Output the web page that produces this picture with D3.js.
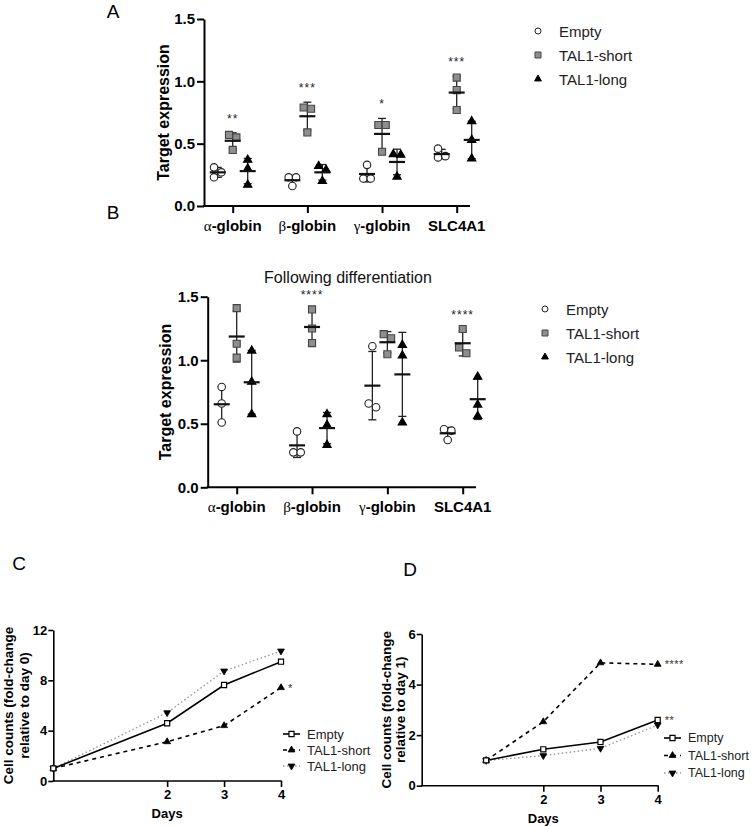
<!DOCTYPE html>
<html><head><meta charset="utf-8">
<script src="https://cdn.jsdelivr.net/npm/d3@7/dist/d3.min.js"></script>
<style>body{margin:0;background:#fff}svg{display:block}text{font-family:"Liberation Sans",Arial,sans-serif}</style>
</head><body><svg id="c" width="752" height="826"></svg>
<script>
// ---------- DATA ----------
const categories = ["α-globin","β-globin","γ-globin","SLC4A1"];
const groupNames = ["Empty","TAL1-short","TAL1-long"];
const yTicksAB = [0, 0.5, 1.0, 1.5];

const aEmpty = [[0.23,0.31,0.27],[0.23,0.23,0.16],[0.33,0.22,0.22],[0.39,0.40,0.46]];
const aShort = [[0.57,0.55,0.45],[0.79,0.78,0.59],[0.65,0.65,0.435],[1.03,0.93,0.77]];
const aLong  = [[0.37,0.30,0.17],[0.32,0.29,0.20],[0.415,0.41,0.235],[0.68,0.53,0.38]];
const aStars = ["**","***","*","***"];

const bEmpty = [[0.79,0.66,0.51],[0.44,0.275,0.275],[1.11,0.63,0.66],[0.457,0.446,0.372]];
const bShort = [[1.41,1.13,1.02],[1.40,1.25,1.135],[1.205,1.173,1.047],[1.246,1.10,1.055]];
const bLong  = [[1.075,0.83,0.575],[0.575,0.49,0.333],[1.12,1.036,0.51],[0.87,0.65,0.56]];
const bStars = ["","****","","****"];
const bTitle = "Following differentiation";

const cDays = [0,2,3,4];
const cEmpty = [1.0,4.59,7.63,9.48];
const cShort = [1.0,3.12,4.40,7.42];
const cLong  = [1.0,5.43,8.74,10.33];
const cYTicks = [0,4,8,12];

const dDays = [1,2,3,4];
const dEmpty = [1.0,1.44,1.73,2.60];
const dShort = [1.0,2.53,4.86,4.80];
const dLong  = [1.0,1.19,1.48,2.40];
const dYTicks = [0,2,4,6];
const xTicksCD = [2,3,4];

// ---------- HELPERS ----------
const svg = d3.select("#c");
const FONT = '"Liberation Sans",Arial,sans-serif';

function mean(a){return d3.mean(a);}
function sd(a){return d3.deviation(a);}

function scatterPanel(opt){
  const g = svg.append("g");
  const y = d3.scaleLinear().domain([0,1.5]).range([opt.y0, opt.y1]);
  const x = d3.scalePoint().domain(categories).range([opt.xFirst, opt.xLast]);
  const ya = g.append("g").attr("transform",`translate(${opt.ax},0)`)
    .call(d3.axisLeft(y).tickValues(yTicksAB).tickFormat(d3.format(".1f")).tickSize(7).tickSizeOuter(0));
  ya.select(".domain").attr("stroke","#000").attr("stroke-width",2);
  ya.selectAll(".tick line").attr("stroke","#000").attr("stroke-width",2);
  ya.selectAll(".tick text").attr("font-family",FONT).attr("font-weight","bold").attr("font-size",15).attr("fill","#000").attr("x",-9);
  const xa = g.append("g").attr("transform",`translate(0,${opt.y0})`)
    .call(d3.axisBottom(x).tickSize(7).tickSizeOuter(0).tickFormat(""));
  xa.select(".domain").remove();
  xa.selectAll(".tick line").attr("stroke","#000").attr("stroke-width",2);
  g.append("line").attr("x1",opt.ax-1).attr("x2",opt.axEnd).attr("y1",opt.y0).attr("y2",opt.y0).attr("stroke","#000").attr("stroke-width",2);
  categories.forEach(c=>{
    const t = g.append("text").attr("x",x(c)).attr("y",opt.y0+25).attr("text-anchor","middle").attr("font-size",15).attr("fill","#000");
    const greek = /^[αβγ]/.test(c);
    if(greek){
      t.append("tspan").attr("font-family",'"Liberation Serif","DejaVu Serif",serif').attr("font-size",15).text(c[0]);
      t.append("tspan").attr("font-family",FONT).attr("font-weight","bold").text(c.slice(1));
    } else {
      t.append("tspan").attr("font-family",FONT).attr("font-weight","bold").text(c);
    }
  });
  g.append("text").attr("transform",`translate(${opt.ylx},${(opt.y0+opt.y1)/2}) rotate(-90)`)
    .attr("text-anchor","middle").attr("dominant-baseline","central").attr("font-family",FONT).attr("font-weight","bold").attr("font-size",16).text("Target expression");

  const series = [opt.empty, opt.short, opt.long];
  const offsets = [-15,0,15];
  const sym = [d3.symbolCircle, d3.symbolSquare, d3.symbolTriangle];
  const sizes = [44, 50, 30];
  const fills = ["#fff","#8e8e8e","#000"];
  const strokes = ["#222","#444","#000"];
  categories.forEach((c,ci)=>{
    series.forEach((s,si)=>{
      const vals = s[ci];
      const cx = x(c)+offsets[si];
      const m = mean(vals), d = sd(vals);
      g.append("line").attr("x1",cx).attr("x2",cx).attr("y1",y(m-d)).attr("y2",y(m+d)).attr("stroke","#222").attr("stroke-width",1.3);
      [m-d,m+d].forEach(v=>g.append("line").attr("x1",cx-4).attr("x2",cx+4).attr("y1",y(v)).attr("y2",y(v)).attr("stroke","#222").attr("stroke-width",1.3));
      const placed = [];
      const order = vals.map((v,i)=>i).sort((a,b)=>vals[b]-vals[a]);
      order.forEach(i=>{
        const py = y(vals[i]);
        const close = placed.filter(p=>Math.abs(p.py-py)<8);
        let dx = 0;
        if(close.length===1){
          if(close[0].dx===0){ close[0].dx=-3.7; dx=3.7; }
          else dx = close[0].dx<0 ? close[0].dx+7.4 : close[0].dx-7.4;
        }
        placed.push({i,py,dx});
      });
      placed.forEach(p=>{
        g.append("path").attr("d",d3.symbol().type(sym[si]).size(sizes[si])())
          .attr("transform",`translate(${cx+p.dx},${p.py})`)
          .attr("fill",fills[si]).attr("stroke",strokes[si]).attr("stroke-width",1.1);
      });
      g.append("line").attr("x1",cx-8).attr("x2",cx+8).attr("y1",y(m)).attr("y2",y(m)).attr("stroke","#111").attr("stroke-width",2.2);
    });
    const st = opt.stars[ci];
    if(st){
      const top = Math.max(d3.max(opt.short[ci]), mean(opt.short[ci])+sd(opt.short[ci]));
      g.append("text").attr("x",x(c)).attr("y",y(top)-10).attr("text-anchor","middle")
        .attr("font-family",FONT).attr("font-size",12).attr("letter-spacing",1).attr("fill","#222").text(st);
    }
  });
  groupNames.forEach((n,i)=>{
    const ly = opt.legY + i*24;
    g.append("path").attr("d",d3.symbol().type(sym[i]).size([28,36,20][i])())
      .attr("transform",`translate(${opt.legX},${ly})`).attr("fill",fills[i]).attr("stroke",strokes[i]).attr("stroke-width",1);
    g.append("text").attr("x",opt.legX+21).attr("y",ly).attr("dominant-baseline","central")
      .attr("font-family",FONT).attr("font-size",15).attr("fill","#222").text(n);
  });
  g.append("text").attr("x",opt.lblX).attr("y",opt.lblY).attr("text-anchor","middle").attr("font-family",FONT).attr("font-size",19).text(opt.label);
  return {g,x,y};
}

scatterPanel({y0:206, y1:19, ax:204, axEnd:470, xFirst:232.7, xLast:456.7, ylx:163,
  empty:aEmpty, short:aShort, long:aLong, stars:aStars, legX:538, legY:31, lblX:113, lblY:18, label:"A"});
const pb = scatterPanel({y0:487.3, y1:296.7, ax:207.7, axEnd:476, xFirst:236.7, xLast:462.7, ylx:165,
  empty:bEmpty, short:bShort, long:bLong, stars:bStars, legX:545, legY:309, lblX:113, lblY:219, label:"B"});
pb.g.append("text").attr("x",348).attr("y",277).attr("text-anchor","middle").attr("dominant-baseline","central")
  .attr("font-family",FONT).attr("font-size",16).attr("fill","#111").text(bTitle);

function linePanel(opt){
  const g = svg.append("g");
  const x = d3.scaleLinear().domain(opt.xd).range([opt.ax, opt.xEnd]);
  const y = d3.scaleLinear().domain(opt.yd).range([opt.y0, opt.y1]);
  const ya = g.append("g").attr("transform",`translate(${opt.ax},0)`)
    .call(d3.axisLeft(y).tickValues(opt.yTicks).tickFormat(d3.format("d")).tickSize(5).tickSizeOuter(0));
  ya.select(".domain").attr("stroke","#000").attr("stroke-width",1.6);
  ya.selectAll(".tick line").attr("stroke","#000").attr("stroke-width",1.6);
  ya.selectAll(".tick text").attr("font-family",FONT).attr("font-weight","bold").attr("font-size",13).attr("fill","#000").attr("x",-6);
  const xa = g.append("g").attr("transform",`translate(0,${opt.y0})`)
    .call(d3.axisBottom(x).tickValues(xTicksCD).tickFormat(d3.format("d")).tickSize(6).tickSizeOuter(0));
  xa.select(".domain").remove();
  xa.selectAll(".tick line").attr("stroke","#000").attr("stroke-width",1.6);
  xa.selectAll(".tick text").attr("font-family",FONT).attr("font-weight","bold").attr("font-size",13).attr("fill","#000").attr("y",9);
  g.append("line").attr("x1",opt.ax-0.8).attr("x2",opt.xEnd+0.8).attr("y1",opt.y0).attr("y2",opt.y0).attr("stroke","#000").attr("stroke-width",1.6);
  g.append("text").attr("x",x(2)).attr("y",opt.y0+37).attr("text-anchor","middle").attr("font-family",FONT).attr("font-weight","bold").attr("font-size",13).text("Days");
  const ymid = (opt.y0+opt.y1)/2;
  [[opt.ylab1,opt.yl1x],[opt.ylab2,opt.yl2x]].forEach(([t,lx])=>{
    g.append("text").attr("transform",`translate(${lx},${ymid}) rotate(-90)`).attr("text-anchor","middle").attr("dominant-baseline","central")
      .attr("font-family",FONT).attr("font-weight","bold").attr("font-size",13.5).text(t);
  });
  const series = [opt.empty, opt.short, opt.long];
  const dashes = [null,"4,4","1.5,2.5"];
  const lcol = ["#000","#000","#999"];
  const lw = [1.6,1.6,1.4];
  const sym = [d3.symbolSquare, d3.symbolTriangle, d3.symbolTriangle];
  const msz = [26, 20, 20];
  const line = d3.line().x((d,i)=>x(opt.days[i])).y(d=>y(d));
  [2,1,0].forEach(si=>{
    g.append("path").attr("d",line(series[si])).attr("fill","none").attr("stroke",lcol[si]).attr("stroke-width",lw[si])
      .attr("stroke-dasharray",dashes[si]);
  });
  [2,1,0].forEach(si=>{
    series[si].forEach((v,i)=>{
      g.append("path").attr("d",d3.symbol().type(sym[si]).size(msz[si])())
        .attr("transform",`translate(${x(opt.days[i])},${y(v)})${si===2?" rotate(180)":""}`)
        .attr("fill",si===0?"#fff":"#000").attr("stroke","#000").attr("stroke-width",si===0?1.2:0.8);
    });
  });
  opt.stars.forEach(s=>{
    const v = series[s.series][series[s.series].length-1];
    g.append("text").attr("x",x(4)+s.dx).attr("y",y(v)).attr("dominant-baseline","central")
      .attr("font-family",FONT).attr("font-size",11).attr("letter-spacing",0.5).attr("fill","#333").text(s.text);
  });
  groupNames.forEach((n,i)=>{
    const ly = opt.legY + i*opt.legStep;
    g.append("line").attr("x1",opt.legX).attr("x2",opt.legX+17).attr("y1",ly).attr("y2",ly).attr("stroke",lcol[i]).attr("stroke-width",lw[i]).attr("stroke-dasharray",dashes[i]);
    g.append("path").attr("d",d3.symbol().type(sym[i]).size(msz[i])())
      .attr("transform",`translate(${opt.legX+8.5},${ly})${i===2?" rotate(180)":""}`)
      .attr("fill",i===0?"#fff":"#000").attr("stroke","#000").attr("stroke-width",i===0?1.2:0.8);
    g.append("text").attr("x",opt.legX+24).attr("y",ly).attr("dominant-baseline","central")
      .attr("font-family",FONT).attr("font-size",opt.legFont).attr("fill","#222").text(n);
  });
  g.append("text").attr("x",opt.lblX).attr("y",opt.lblY).attr("text-anchor","middle").attr("dominant-baseline","central").attr("font-family",FONT).attr("font-size",19).text(opt.label);
}

linePanel({xd:[0,4], yd:[0,12], ax:53.3, xEnd:281, y0:781, y1:630, yTicks:cYTicks,
  days:cDays, empty:cEmpty, short:cShort, long:cLong,
  stars:[{series:1,text:"*",dx:7}],
  ylab1:"Cell counts (fold-change", ylab2:"relative to day 0)", yl1x:8, yl2x:24,
  legX:283, legY:734, legStep:16, legFont:13, lblX:19, lblY:563, label:"C"});

linePanel({xd:[-0.126,4], yd:[0,6], ax:421.7, xEnd:657.7, y0:785.7, y1:634, yTicks:dYTicks,
  days:dDays, empty:dEmpty, short:dShort, long:dLong,
  stars:[{series:1,text:"****",dx:7},{series:0,text:"**",dx:7}],
  ylab1:"Cell counts (fold-change", ylab2:"relative to day 1)", yl1x:386, yl2x:400,
  legX:664, legY:738, legStep:17.5, legFont:12.5, lblX:410, lblY:569, label:"D"});
</script></body></html>
